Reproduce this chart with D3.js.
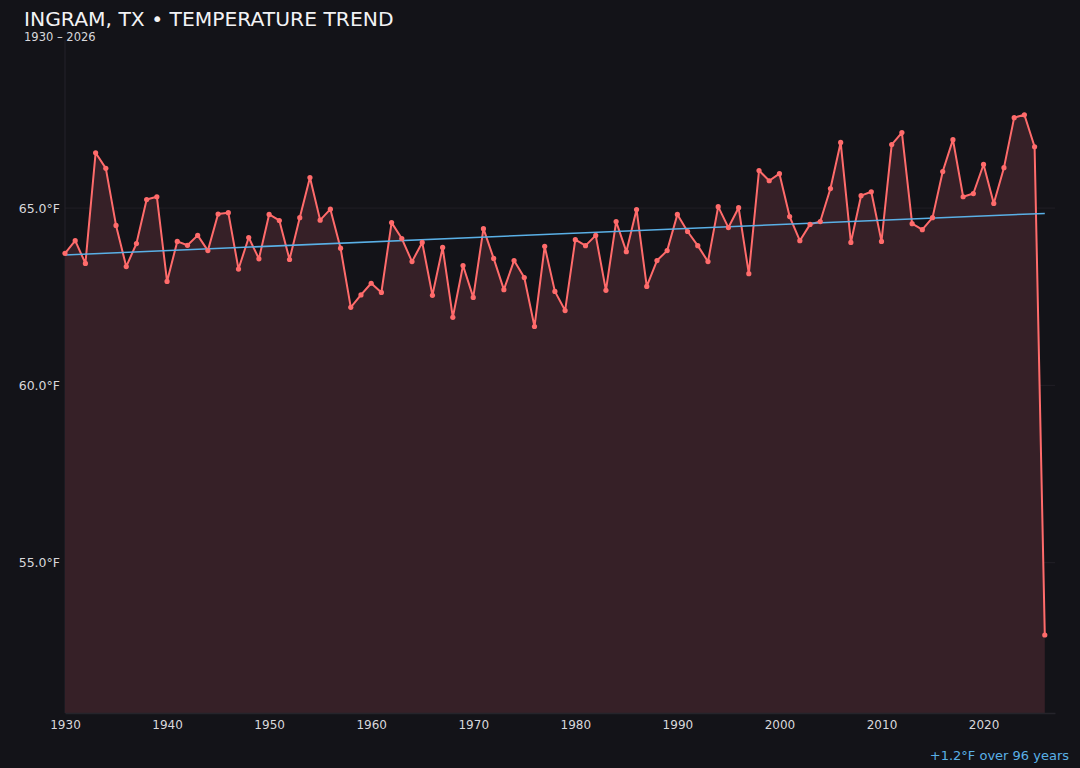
<!DOCTYPE html>
<html>
<head>
<meta charset="utf-8">
<script src="https://cdn.jsdelivr.net/npm/d3@7"></script>
<style>
  html, body { margin: 0; padding: 0; background: #131318; }
  svg { display: block; font-family: "DejaVu Sans", sans-serif; }
</style>
</head>
<body>
<svg id="chart" width="1080" height="768"></svg>
<script>
const years = d3.range(1930, 2027);
const temps = [
  63.72, 64.08, 63.44, 66.56, 66.12, 64.51, 63.35, 64.00, 65.24, 65.32,
  62.93, 64.06, 63.95, 64.23, 63.80, 64.83, 64.87, 63.28, 64.17, 63.57,
  64.82, 64.65, 63.55, 64.73, 65.86, 64.66, 64.97, 63.87, 62.20, 62.55,
  62.88, 62.62, 64.59, 64.14, 63.49, 64.03, 62.54, 63.89, 61.92, 63.38,
  62.48, 64.42, 63.58, 62.70, 63.52, 63.04, 61.66, 63.92, 62.65, 62.11,
  64.11, 63.94, 64.23, 62.68, 64.62, 63.77, 64.96, 62.79, 63.52, 63.80,
  64.82, 64.34, 63.94, 63.49, 65.04, 64.45, 65.01, 63.15, 66.06, 65.77,
  65.97, 64.76, 64.08, 64.54, 64.62, 65.55, 66.85, 64.03, 65.35, 65.46,
  64.06, 66.79, 67.13, 64.56, 64.39, 64.73, 66.03, 66.93, 65.32, 65.41,
  66.23, 65.13, 66.14, 67.55, 67.63, 66.73, 52.96
];
const trendYears = [1930, 2026];
const trendValues = [63.68, 64.85];
const yTicks = [55, 60, 65];
const xTicks = [1930, 1940, 1950, 1960, 1970, 1980, 1990, 2000, 2010, 2020];
const titleText = "INGRAM, TX • TEMPERATURE TREND";
const subtitleText = "1930 – 2026";
const trendLabel = "+1.2°F over 96 years";

(function () {
const data = years.map((yr, i) => ({ year: yr, value: temps[i] }));
const trend = trendYears.map((yr, i) => ({ year: yr, value: trendValues[i] }));

const svg = d3.select("#chart");
const W = 1080, H = 768;
const mLeft = 65, mRight = 1055, mTop = 40, mBottom = 713;

svg.append("rect").attr("width", W).attr("height", H).attr("fill", "#131318");

const x = d3.scaleLinear().domain([1930, 2027]).range([mLeft, mRight]);
const y = d3.scaleLinear().domain([50.76, 69.74]).range([mBottom, mTop]);

// grid
svg.append("g").selectAll("line").data(yTicks).join("line")
  .attr("x1", mLeft).attr("x2", mRight)
  .attr("y1", d => y(d)).attr("y2", d => y(d))
  .attr("stroke", "#211f26").attr("stroke-width", 1);

// left axis line
svg.append("line").attr("x1", mLeft).attr("x2", mLeft).attr("y1", mTop).attr("y2", mBottom)
  .attr("stroke", "#24232a").attr("stroke-width", 1);

// area
const area = d3.area().x(d => x(d.year)).y0(y(y.domain()[0])).y1(d => y(d.value));
svg.append("path").datum(data).attr("d", area).attr("fill", "#362027");

// x axis
const xAxis = d3.axisBottom(x).tickValues(xTicks).tickFormat(d3.format("d")).tickSize(0).tickPadding(7);
const gx = svg.append("g").attr("transform", `translate(0,${mBottom})`).call(xAxis);
gx.select(".domain").attr("stroke", "#25242b").attr("stroke-width", 1.5);
gx.selectAll("text").attr("fill", "#d8d8dc").attr("font-size", 12).attr("font-family", "DejaVu Sans, sans-serif");

// y axis labels
const yAxis = d3.axisLeft(y).tickValues(yTicks).tickFormat(d => d.toFixed(1) + "°F").tickSize(0).tickPadding(5);
const gy = svg.append("g").attr("transform", `translate(${mLeft},0)`).call(yAxis);
gy.select(".domain").remove();
gy.selectAll("text").attr("fill", "#d8d8dc").attr("font-size", 12.5).attr("font-family", "DejaVu Sans, sans-serif");

// line
const line = d3.line().x(d => x(d.year)).y(d => y(d.value));
svg.append("path").datum(data).attr("d", line)
  .attr("fill", "none").attr("stroke", "#ff6b6b").attr("stroke-width", 2).attr("stroke-linejoin", "round");

// trend
svg.append("path").datum(trend).attr("d", line)
  .attr("fill", "none").attr("stroke", "#5ab0e6").attr("stroke-width", 1.5);

// points
svg.append("g").selectAll("circle").data(data).join("circle")
  .attr("cx", d => x(d.year)).attr("cy", d => y(d.value)).attr("r", 2.6)
  .attr("fill", "#ff6b6b");

// title
svg.append("text").attr("x", 24).attr("y", 26).text(titleText)
  .attr("fill", "#f2f2f4").attr("font-size", 20.3);
svg.append("text").attr("x", 24).attr("y", 41).text(subtitleText)
  .attr("fill", "#d8d8dc").attr("font-size", 11.5);

// trend label
svg.append("text").attr("x", 1069).attr("y", 760).attr("text-anchor", "end").text(trendLabel)
  .attr("fill", "#5ab0e6").attr("font-size", 13);
})();
</script>
</body>
</html>
